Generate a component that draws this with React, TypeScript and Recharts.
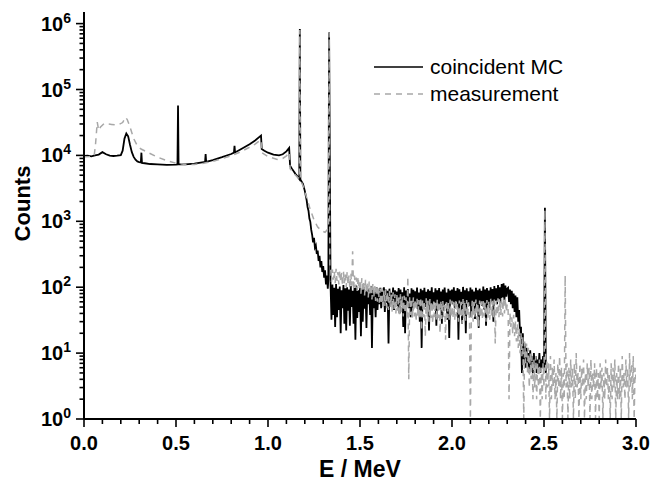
import React from "react";
import { Legend, Line, LineChart, XAxis, YAxis } from "recharts";

type Pair = [number, number];
interface Point { x: number; y: number }

const seriesNames = ["coincident MC", "measurement"];

// high-energy part of both spectra is kept as 5 keV channels
const binStart = 1.34;
const tailStart = 2.305;
const binWidth = 0.005;

const xMajorTicks = [0, 0.5, 1, 1.5, 2, 2.5, 3];
const xTicks = [
  0, 0.1, 0.2, 0.3, 0.4, 0.5, 0.6, 0.7, 0.8, 0.9, 1, 1.1, 1.2, 1.3, 1.4, 1.5,
  1.6, 1.7, 1.8, 1.9, 2, 2.1, 2.2, 2.3, 2.4, 2.5, 2.6, 2.7, 2.8, 2.9, 3,
];
const decades = [1, 10, 100, 1000, 10000, 100000, 1000000];
const mantissas = [1, 2, 3, 4, 5, 6, 7, 8, 9];
const yMax = 1.5e6;

// coincident MC
const mcContinuum: Pair[] = [
  [0, 9800], [0.02, 9900], [0.04, 9700], [0.06, 10000], [0.08, 10300], [0.1, 11200],
  [0.12, 10400], [0.14, 9900], [0.16, 9800], [0.18, 9900], [0.2, 10100], [0.21, 11800],
  [0.22, 18000], [0.23, 21500], [0.24, 19500], [0.25, 14500], [0.26, 11200], [0.27, 9500],
  [0.28, 8600], [0.29, 8100], [0.3, 7900], [0.309, 7800], [0.315, 7700], [0.33, 7600],
  [0.36, 7400], [0.4, 7300], [0.45, 7200], [0.5, 7250], [0.508, 7300], [0.514, 7300],
  [0.55, 7300], [0.6, 7500], [0.65, 7900], [0.658, 7950], [0.664, 8000], [0.7, 8500],
  [0.75, 9400], [0.8, 10500], [0.815, 11000], [0.821, 11100], [0.85, 12300], [0.9, 14800],
  [0.93, 16800], [0.955, 19300], [0.962, 20000], [0.966, 12500], [0.98, 11800], [1.0, 11000],
  [1.03, 10300], [1.06, 10000], [1.08, 10400], [1.1, 11500], [1.115, 13000], [1.12, 7000],
  [1.13, 6300], [1.15, 5200], [1.165, 4600], [1.17, 4400], [1.176, 4300], [1.19, 3700],
  [1.2, 2900], [1.21, 2100], [1.215, 1650], [1.22, 1450], [1.225, 1100], [1.23, 980],
  [1.235, 740], [1.24, 620], [1.245, 480], [1.25, 560], [1.255, 400], [1.26, 430],
  [1.265, 320], [1.27, 360], [1.275, 250], [1.28, 300], [1.285, 200], [1.29, 250],
  [1.295, 170], [1.3, 210], [1.305, 140], [1.31, 180], [1.315, 110], [1.32, 150],
  [1.325, 95], [1.328, 130],
];
const mcPeaks: Pair[] = [
  [0.312, 11000], [0.511, 57000], [0.661, 10500], [0.818, 14000],
  [1.173, 830000], [1.332, 730000],
];
const mcPlateau = [
  105, 32, 110, 38, 98, 25, 112, 35, 95, 45, 102, 20, 90, 48, 108, 28, 96, 22, 100, 44,
  92, 26, 104, 50, 88, 28, 97, 16, 106, 34, 90, 42, 99, 18, 94, 30, 101, 47, 86, 24,
  98, 55, 92, 38, 103, 12, 95, 48, 88, 35, 100, 45,
  90, 55, 98, 48, 85, 60, 100, 42, 92, 58, 88, 14, 95, 52, 82, 62, 99, 45, 90, 57,
  86, 50, 97, 40, 92, 60, 84, 25, 100, 20, 89, 56, 94, 48, 80, 35, 96, 44, 91, 58,
  87, 52, 99, 46, 83, 30, 95, 12, 90, 55, 98, 50, 85, 62, 93, 22, 88, 57, 100, 48,
  84, 59, 96, 26, 90, 54, 97, 47, 86, 28, 92, 44, 99, 56, 83, 32, 95, 17, 89, 58,
  92, 55, 100, 48, 88, 60, 97, 16, 93, 57, 85, 28, 101, 62, 90, 20, 96, 58, 87, 52,
  99, 35, 92, 60, 86, 33, 98, 56, 90, 24, 95, 58, 88, 52, 102, 46, 92, 26, 97, 54,
  89, 48, 100, 59, 94, 30, 104, 62, 96, 55, 108, 66, 100, 58, 112, 70, 115, 64, 106, 72,
  95,
];
const mcTail = [
  98, 60, 92, 55, 88, 48, 80, 42, 75, 35,
  70, 30, 45, 18, 25, 5, 20, 8, 14, 6,
  12, 7, 10, 5, 11, 6, 9, 5, 10, 6,
  9, 5, 8, 6, 10, 5, 8, 6, 9, 6,
  1600, 5,
];

// measurement
const measContinuum: Pair[] = [
  [0, 9500], [0.03, 9600], [0.055, 9800], [0.062, 14000], [0.072, 32000], [0.08, 24000],
  [0.09, 27000], [0.11, 30500], [0.13, 30000], [0.15, 29500], [0.17, 29000], [0.19, 29500],
  [0.21, 31500], [0.225, 38000], [0.235, 35000], [0.25, 27000], [0.27, 18000], [0.29, 14000],
  [0.31, 12500], [0.35, 11000], [0.4, 9400], [0.45, 8300], [0.5, 7600], [0.55, 7300],
  [0.6, 7300], [0.65, 7600], [0.7, 8100], [0.75, 8900], [0.8, 9900], [0.85, 11300],
  [0.9, 13300], [0.93, 14800], [0.955, 16800], [0.962, 17200], [0.966, 11000], [1.0, 9600],
  [1.05, 8700], [1.08, 9000], [1.1, 9800], [1.115, 11200], [1.12, 6300], [1.15, 5000],
  [1.17, 4400], [1.176, 4200], [1.19, 3500], [1.21, 2300], [1.23, 1500], [1.25, 1050],
  [1.27, 820], [1.29, 720], [1.31, 680], [1.325, 760], [1.329, 800], [1.336, 200],
];
const measPeaks: Pair[] = [[1.173, 800000], [1.332, 720000]];
const measPlateau = [
  200, 120, 185, 130, 175, 115, 190, 125, 170, 110, 180, 120, 165, 105, 172, 115, 160, 100, 170, 110,
  150, 95, 160, 105, 350, 90, 150, 98, 140, 88, 145, 92, 130, 80, 138, 85, 125, 75, 130, 82,
  118, 70, 122, 76, 112, 65, 115, 70, 105, 62, 108, 60,
  100, 58, 95, 55, 98, 50, 90, 52, 92, 48, 85, 45, 88, 50, 82, 42, 84, 46, 78, 40,
  80, 44, 75, 38, 78, 42, 72, 36, 74, 40, 70, 35, 145, 4, 72, 38, 68, 34, 70, 36,
  66, 30, 68, 36, 64, 33, 70, 22, 65, 35, 62, 18, 68, 36, 63, 30, 66, 34, 60, 28,
  64, 35, 61, 31, 66, 34, 60, 20, 63, 33, 62, 35, 58, 16, 64, 34, 60, 32, 65, 36,
  62, 34, 60, 32, 65, 36, 58, 30, 63, 35, 60, 28, 66, 34, 61, 31, 64, 36, 59, 33,
  1, 35, 62, 30, 60, 34, 65, 32, 58, 25, 63, 35, 61, 33, 66, 36, 59, 30, 64, 34,
  60, 32, 67, 36, 62, 33, 65, 14, 63, 37, 68, 35, 64, 38, 70, 36, 66, 40, 68, 42,
  55,
];
const measTail = [
  45, 2, 40, 25, 35, 20, 38, 18, 30, 15,
  28, 12, 24, 10, 20, 9, 18, 1, 15, 7,
  14, 5, 12, 3, 10, 4, 9, 2, 8, 3,
  9, 2, 7, 3, 8, 1, 6, 2, 7, 3,
  1500, 2, 8, 3, 7, 1, 9, 2, 6, 3,
  8, 2, 5, 1, 7, 3, 9, 2, 6, 1,
  5, 2, 150, 3, 7, 1, 6, 2, 8, 3,
  6, 1, 7, 2, 10, 3, 5, 1, 7, 2,
  6, 3, 8, 1, 5, 2, 7, 3, 6, 1,
  8, 2, 5, 3, 7, 1, 6, 2, 5, 1,
  7, 3, 6, 1, 5, 2, 8, 3, 6, 2,
  5, 1, 7, 2, 6, 3, 8, 1, 5, 2,
  7, 2, 6, 1, 9, 3, 5, 2, 8, 3,
  6, 1, 10, 3, 7, 2, 9, 1, 6, 4,
];

const toPoints = (pairs: Pair[]): Point[] => pairs.map(([x, y]) => ({ x, y }));
const binned = (start: number, counts: number[]): Point[] =>
  counts.map((y, i) => ({ x: +(start + i * binWidth).toFixed(4), y }));
const byEnergy = (a: Point, b: Point) => a.x - b.x;

const mcData = [
  ...toPoints(mcContinuum), ...toPoints(mcPeaks),
  ...binned(binStart, mcPlateau), ...binned(tailStart, mcTail),
].sort(byEnergy);
const measData = [
  ...toPoints(measContinuum), ...toPoints(measPeaks),
  ...binned(binStart, measPlateau), ...binned(tailStart, measTail),
].sort(byEnergy);

const yTicks = decades.flatMap((d) => mantissas.map((m) => m * d)).filter((v) => v <= yMax);

const font = '"Liberation Sans", Arial, Helvetica, sans-serif';
const gray = "#a8a8a8";

const isMajorX = (v: number) => xMajorTicks.some((t) => Math.abs(t - v) < 1e-6);
const isDecade = (v: number) => decades.includes(v);

const BottomTick = ({ x, y, payload }: any) => {
  const v = payload.value;
  const major = isMajorX(v);
  return (
    <g>
      <line x1={x} x2={x} y1={y} y2={y + (major ? 8 : 5)} stroke="#000" strokeWidth={1.6} />
      {major && (
        <text x={x} y={y + 31} textAnchor="middle" fontFamily={font} fontWeight="bold" fontSize={20} fill="#000">
          {v.toFixed(1)}
        </text>
      )}
    </g>
  );
};

const TopTick = ({ x, y, payload }: any) => (
  <line x1={x} x2={x} y1={y} y2={y + (isMajorX(payload.value) ? 7 : 4)} stroke="#000" strokeWidth={1.6} />
);

const LeftTick = ({ x, y, payload }: any) => {
  const v = payload.value;
  const major = isDecade(v);
  return (
    <g>
      <line x1={x - (major ? 8 : 4.5)} x2={x} y1={y} y2={y} stroke="#000" strokeWidth={1.6} />
      {major && (
        <text x={x - 13} y={y + 7} textAnchor="end" fontFamily={font} fontWeight="bold" fontSize={20} fill="#000">
          <tspan>10</tspan>
          <tspan dy={-8} fontSize={14}>{decades.indexOf(v)}</tspan>
        </text>
      )}
    </g>
  );
};

const RightTick = ({ x, y, payload }: any) => (
  <line x1={x - (isDecade(payload.value) ? 7 : 4)} x2={x} y1={y} y2={y} stroke="#000" strokeWidth={1.6} />
);

const XTitle = ({ viewBox }: any) => (
  <text x={viewBox.x + viewBox.width / 2} y={viewBox.y + viewBox.height - 4} textAnchor="middle"
    fontFamily={font} fontWeight="bold" fontSize={23} fill="#000">
    E / MeV
  </text>
);

const YTitle = ({ viewBox }: any) => {
  const cx = viewBox.x + 22;
  const cy = viewBox.y + viewBox.height / 2 - 12;
  return (
    <text x={cx} y={cy} transform={`rotate(-90, ${cx}, ${cy})`} textAnchor="middle" dominantBaseline="central"
      fontFamily={font} fontWeight="bold" fontSize={22} fill="#000">
      Counts
    </text>
  );
};

const LegendBox = () => (
  <svg width={230} height={56} style={{ display: "block" }}>
    <line x1={4} x2={53} y1={15} y2={15} stroke="#000" strokeWidth={1.5} />
    <text x={60} y={22} fontFamily={font} fontSize={21} fill="#000">{seriesNames[0]}</text>
    <line x1={4} x2={53} y1={42} y2={42} stroke={gray} strokeWidth={1.5} strokeDasharray="6 5" />
    <text x={60} y={49} fontFamily={font} fontSize={21} fill="#000">{seriesNames[1]}</text>
  </svg>
);

const axisLine = { stroke: "#000", strokeWidth: 2 };

export default function App() {
  return (
    <div style={{ position: "absolute", left: 0, top: 0, background: "#fff" }}>
      <LineChart width={652} height={481} margin={{ top: 12, right: 16, bottom: 0, left: 0 }}>
        <XAxis xAxisId="b" dataKey="x" type="number" domain={[0, 3]} allowDataOverflow ticks={xTicks}
          interval={0} tickSize={0} tickMargin={0} tickLine={false} tick={BottomTick} axisLine={axisLine}
          height={62} label={{ content: XTitle }} />
        <XAxis xAxisId="t" orientation="top" dataKey="x" type="number" domain={[0, 3]} allowDataOverflow
          ticks={xTicks} interval={0} tickSize={0} tickMargin={0} tickLine={false} tick={TopTick}
          axisLine={axisLine} height={0} />
        <YAxis yAxisId="l" type="number" scale="log" domain={[1, yMax]} allowDataOverflow ticks={yTicks}
          interval={0} tickSize={0} tickMargin={0} tickLine={false} tick={LeftTick} axisLine={axisLine}
          width={84} label={{ content: YTitle }} />
        <YAxis yAxisId="r" orientation="right" type="number" scale="log" domain={[1, yMax]} allowDataOverflow
          ticks={yTicks} interval={0} tickSize={0} tickMargin={0} tickLine={false} tick={RightTick}
          axisLine={axisLine} width={0} />
        <Legend content={() => <LegendBox />} layout="vertical" align="center" verticalAlign="middle"
          wrapperStyle={{ left: 370, top: 52, width: 230, height: 56 }} />
        <Line xAxisId="b" yAxisId="l" data={mcData} dataKey="y" name={seriesNames[0]} type="linear"
          stroke="#000" strokeWidth={1.8} dot={false} isAnimationActive={false} />
        <Line xAxisId="t" yAxisId="r" data={measData} dataKey="y" name={seriesNames[1]} type="linear"
          stroke={gray} strokeWidth={1.5} strokeDasharray="6 5" dot={false} isAnimationActive={false} />
      </LineChart>
    </div>
  );
}
